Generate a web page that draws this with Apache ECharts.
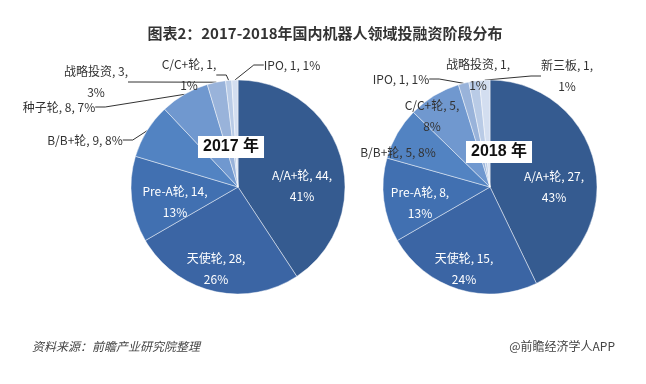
<!DOCTYPE html>
<html><head><meta charset="utf-8">
<script src="https://cdn.jsdelivr.net/npm/echarts@6/dist/echarts.min.js"></script>
<style>html,body{margin:0;padding:0;background:#fff}#c{width:646px;height:384px}</style>
</head><body><div id="c"></div>
<script>
const titleText = '图表2：2017-2018年国内机器人领域投融资阶段分布';
const sourceText = '资料来源：前瞻产业研究院整理';
const creditText = '@前瞻经济学人APP';

const names2017 = ['A/A+轮', '天使轮', 'Pre-A轮', 'B/B+轮', '种子轮', '战略投资', 'C/C+轮', 'IPO'];
const values2017 = [44, 28, 14, 9, 8, 3, 1, 1];
const pct2017 = ['41%', '26%', '13%', '8%', '7%', '3%', '1%', '1%'];

const names2018 = ['A/A+轮', '天使轮', 'Pre-A轮', 'B/B+轮', 'C/C+轮', 'IPO', '战略投资', '新三板'];
const values2018 = [27, 15, 8, 5, 5, 1, 1, 1];
const pct2018 = ['43%', '24%', '13%', '8%', '8%', '1%', '1%', '1%'];

const colors = ['#355b90', '#3b65a4', '#4170b1', '#5283c2', '#7098cf', '#99b3da', '#b9cbe6', '#d3def0'];

// label layout: [x, y, white?, lineBreak?, showLine?]
const lay2017 = [
  [302, 186, true, true, false],
  [216, 269, true, true, false],
  [175, 202, true, true, false],
  [85, 140, false, false, true],
  [59, 107, false, false, true],
  [96, 82, false, true, true],
  [189, 75, false, true, true],
  [292, 65, false, false, true]
];
const lay2018 = [
  [554, 187, true, true, false],
  [464, 269, true, true, false],
  [420, 203, true, true, false],
  [398, 152, false, false, false],
  [432, 116, false, true, false],
  [401, 79, false, false, true],
  [478, 75, false, true, true],
  [567, 76, false, true, true]
];

function buildData(names, values, pcts, lay) {
  return names.map((n, i) => ({
    name: n,
    value: values[i],
    itemStyle: { color: colors[i] },
    label: {
      position: lay[i][4] ? 'outside' : 'inside',
      formatter: n + ', ' + values[i] + ',' + (lay[i][3] ? '\n' : ' ') + pcts[i],
      color: lay[i][2] ? '#ffffff' : '#333333'
    },
    labelLine: { show: lay[i][4] }
  }));
}

function makeSeries(names, values, pcts, lay, center) {
  return {
    type: 'pie',
    center: center,
    radius: 107,
    startAngle: 90,
    clockwise: true,
    animation: false,
    silent: true,
    itemStyle: { borderColor: 'rgba(255,255,255,0.45)', borderWidth: 1 },
    label: {
      show: true,
      position: 'outside',
      fontFamily: 'Noto Sans CJK SC',
      fontSize: 12,
      lineHeight: 21,
      align: 'center',
      overflow: 'none'
    },
    labelLine: { show: true, length: 10, length2: 10, lineStyle: { color: '#333', width: 1 } },
    labelLayout: function (p) {
      const l = lay[p.dataIndex];
      return { x: l[0], y: l[1], align: 'center', verticalAlign: 'middle' };
    },
    data: buildData(names, values, pcts, lay)
  };
}

const chart = echarts.init(document.getElementById('c'), null, { renderer: 'canvas' });
chart.setOption({
  backgroundColor: '#ffffff',
  title: [
    { text: titleText, left: 320, top: 21, textAlign: 'center',
      textStyle: { fontFamily: 'Noto Sans CJK SC', fontSize: 15, fontWeight: 'bold', color: '#333' } },
    { text: '2017 年', left: 226, top: 136, textAlign: 'center', backgroundColor: '#fff', padding: [3, 5],
      textStyle: { fontFamily: 'Liberation Sans, Noto Sans CJK SC', fontSize: 16, fontWeight: 'bold', color: '#111' } },
    { text: '2018 年', left: 494, top: 141, textAlign: 'center', backgroundColor: '#fff', padding: [3, 5],
      textStyle: { fontFamily: 'Liberation Sans, Noto Sans CJK SC', fontSize: 16, fontWeight: 'bold', color: '#111' } },
    { text: sourceText, left: 27, top: 335,
      textStyle: { fontFamily: 'Noto Sans CJK SC', fontSize: 12, fontStyle: 'italic', fontWeight: 'normal', color: '#444' } },
    { text: creditText, right: 26, top: 335,
      textStyle: { fontFamily: 'Noto Sans CJK SC', fontSize: 12, fontWeight: 'normal', color: '#444' } }
  ],
  series: [
    makeSeries(names2017, values2017, pct2017, lay2017, [238, 187]),
    makeSeries(names2018, values2018, pct2018, lay2018, [490, 187])
  ]
});
</script></body></html>
